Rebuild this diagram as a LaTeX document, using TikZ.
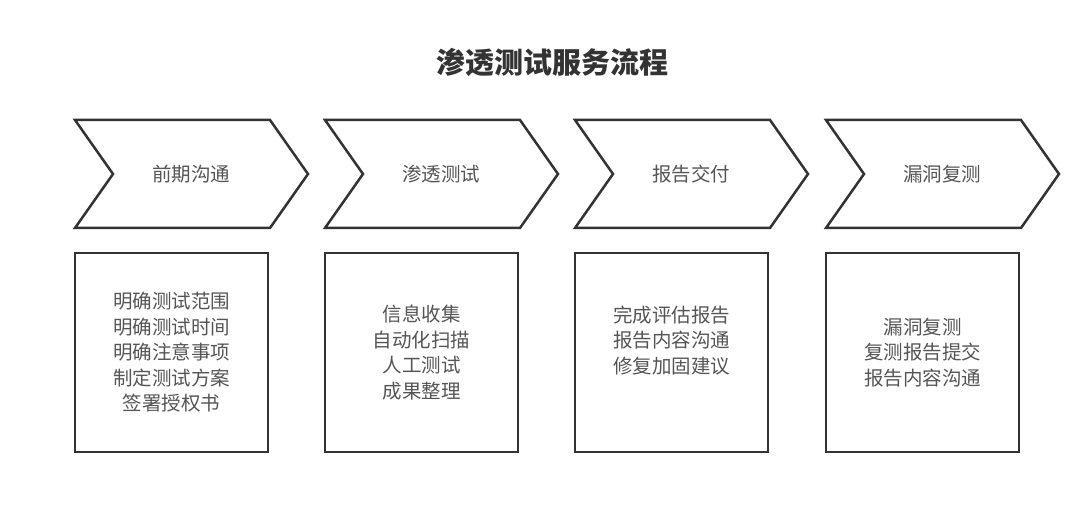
\documentclass[tikz,border=0pt]{standalone}
\usepackage{fontspec}
\setmainfont{Noto Sans CJK SC}
\usepackage{tikz}
\definecolor{linegray}{HTML}{333333}
\definecolor{txtgray}{HTML}{555555}
\definecolor{titlegray}{HTML}{333333}
\tikzset{
  stepchev/.style={draw=linegray,line width=2.5pt,line join=miter,fill=white},
  stepbox/.style={draw=linegray,line width=2.5pt,minimum width=193pt,minimum height=199pt,inner sep=0pt},
  steptxt/.style={font=\fontsize{19.5}{25.5}\selectfont,text=txtgray,align=center},
  titletxt/.style={font=\fontsize{29}{34}\selectfont\bfseries,text=titlegray},
}

\begin{document}
\begin{tikzpicture}[x=1pt,y=-1pt]
  \useasboundingbox[fill=white] (0,0) rectangle (1080,524);
  \node[titletxt] (title) at (552,62) {渗透测试服务流程};
  % chevrons
  \foreach \x/\n/\lab in {75/1/前期沟通,325/2/渗透测试,575/3/报告交付,826/4/漏洞复测} {
    \draw[stepchev] (\x,120) -- (\x+195,120) -- (\x+233,174) -- (\x+195,228)
      -- (\x,228) -- (\x+38,174) -- cycle;
    \node[steptxt] (c\n) at (\x+116,174) {\lab};
  }
  % boxes
  \node[stepbox] (b1) at (171.5,352.5) {};
  \node[stepbox] (b2) at (421.5,352.5) {};
  \node[stepbox] (b3) at (671.5,352.5) {};
  \node[stepbox] (b4) at (922.5,352.5) {};
  \node[steptxt] (t1) at (b1.center) {明确测试范围\\明确测试时间\\明确注意事项\\制定测试方案\\签署授权书};
  \node[steptxt] (t2) at (b2.center) {信息收集\\自动化扫描\\人工测试\\成果整理};
  \node[steptxt] (t3) at ([yshift=12pt]b3.center) {完成评估报告\\报告内容沟通\\修复加固建议};
  \node[steptxt] (t4) at (b4.center) {漏洞复测\\复测报告提交\\报告内容沟通};
\end{tikzpicture}
\end{document}
